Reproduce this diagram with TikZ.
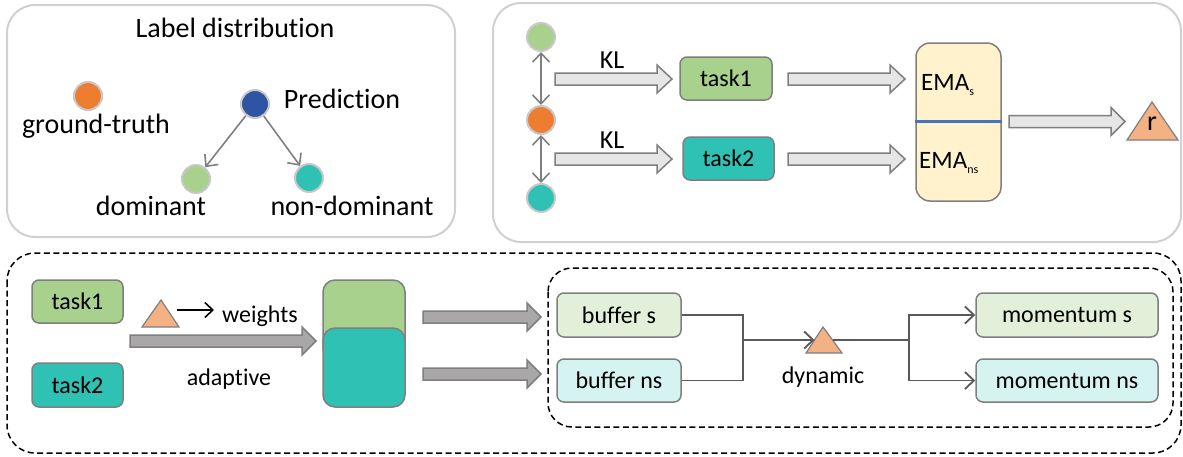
\documentclass[tikz,border=0pt]{standalone}
\usepackage{fontspec}
\setmainfont{Carlito}[Ligatures=NoCommon]
\usetikzlibrary{arrows.meta}
\definecolor{cGreen}{HTML}{A9D18E}
\definecolor{cTeal}{HTML}{2EC1B4}
\definecolor{cOrange}{HTML}{ED7D31}
\definecolor{cBlue}{HTML}{2F55A2}
\definecolor{cTri}{HTML}{F4B183}
\definecolor{cEMA}{HTML}{FFF2CC}
\definecolor{cLG}{HTML}{E2F0D9}
\definecolor{cLT}{HTML}{D5F3F0}
\definecolor{cFrame}{HTML}{D0D0D0}
\definecolor{cEdge}{HTML}{7F7F7F}
\definecolor{cLine}{HTML}{595959}
\definecolor{cArrL}{HTML}{E6E6E6}
\definecolor{cArrD}{HTML}{A9A7A7}
\definecolor{cSep}{HTML}{4472C4}
\definecolor{cCirc}{HTML}{C8C8C8}
\newcommand{\blkarrow}[5]{\draw[#1] (#2,{#5-6}) -- (#3,{#5-6}) -- (#3,{#5-14}) -- (#4,#5) -- (#3,{#5+14}) -- (#3,{#5+6}) -- (#2,{#5+6}) -- cycle;}
\tikzset{
  frame/.style={draw=cFrame, line width=2pt, rounded corners=28pt, fill=white},
  dframe/.style={draw=black, line width=1.5pt, dash pattern=on 6pt off 3.5pt, rounded corners=28pt},
  dot/.style={circle, minimum size=28pt, inner sep=0pt, draw=cCirc, line width=2pt},
  tbox/.style={draw=cEdge, line width=1.5pt, rounded corners=7pt, inner sep=0pt, font=\fontsize{24}{28}\selectfont},
  biglab/.style={font=\fontsize{28}{32}\selectfont, inner sep=0pt, anchor=base},
  smlab/.style={font=\fontsize{24}{28}\selectfont, inner sep=0pt, anchor=base},
  conn/.style={draw=cLine, line width=1.8pt, -{Straight Barb[length=9pt,width=17pt,line width=1.8pt]}},
  plain/.style={draw=cLine, line width=1.8pt},
  tarr/.style={draw=cEdge, line width=1.6pt, -{Straight Barb[length=9pt,width=17pt,line width=1.6pt]}},
  blkL/.style={draw=cEdge, fill=cArrL, line width=1.5pt},
  blkD/.style={draw=cEdge, fill=cArrD, line width=1.5pt},
  tri/.style={draw=cEdge, fill=cTri, line width=1.2pt}
}
\begin{document}
\begin{tikzpicture}[x=1pt,y=-1pt]
\useasboundingbox (0,0) rectangle (1183,456);
\fill[white] (0,0) rectangle (1183,456);
% ---------- top-left panel ----------
\draw[frame] (7,5) rectangle (455,237);
\node[biglab] (title) at (235,37) {Label distribution};
\node[dot, fill=cOrange] (gt) at (88,96) {};
\node[biglab] (gtlab) at (96,133) {ground-truth};
\node[dot, fill=cBlue] (pred) at (255,104) {};
\node[biglab] (predlab) at (342,108) {Prediction};
\node[dot, fill=cGreen] (dom) at (196,179) {};
\node[dot, fill=cTeal] (ndom) at (309,178) {};
\node[biglab] (domlab) at (151,215) {dominant};
\node[biglab] (ndomlab) at (352,215) {non-dominant};
\draw[tarr] (pred) -- (dom);
\draw[tarr] (pred) -- (ndom);
% ---------- top-right panel ----------
\draw[frame] (493,3) rectangle (1181,242);
\node[dot, fill=cGreen] (c1) at (541,37) {};
\node[dot, fill=cOrange] (c2) at (541,120) {};
\node[dot, fill=cTeal] (c3) at (541,198) {};
\draw[tarr, {Straight Barb[length=9pt,width=17pt,line width=1.6pt]}-{Straight Barb[length=9pt,width=17pt,line width=1.6pt]}] (c1) -- (c2);
\draw[tarr, {Straight Barb[length=9pt,width=17pt,line width=1.6pt]}-{Straight Barb[length=9pt,width=17pt,line width=1.6pt]}] (c2) -- (c3);
\blkarrow{blkL}{555}{657}{672}{79}
\blkarrow{blkL}{555}{657}{672}{159}
\node[smlab, font=\fontsize{26}{30}\selectfont] (kl1) at (612,68) {KL};
\node[smlab, font=\fontsize{26}{30}\selectfont] (kl2) at (612,148) {KL};
\node[tbox, fill=cGreen, minimum width=92pt, minimum height=43pt] (t1) at (726,78.5) {task1};
\node[tbox, fill=cTeal, minimum width=91pt, minimum height=43pt] (t2) at (728.5,158.5) {task2};
\blkarrow{blkL}{788}{890}{905}{79}
\blkarrow{blkL}{788}{890}{905}{159}
\node[tbox, fill=cEMA, rounded corners=14pt, minimum width=85pt, minimum height=158pt] (ema) at (958.5,122) {};
\draw[cSep, line width=3pt] (ema.west |- 0,121) -- (ema.east |- 0,121);
\node[inner sep=0pt, anchor=base west, font=\fontsize{25}{28}\selectfont] (emas) at (921,90) {EMA\raisebox{-5pt}{\fontsize{12}{13}\selectfont s}};
\node[inner sep=0pt, anchor=base west, font=\fontsize{25}{28}\selectfont] (emans) at (919,168) {EMA\raisebox{-5pt}{\fontsize{12}{13}\selectfont ns}};
\blkarrow{blkL}{1009}{1111}{1125}{121.5}
\draw[tri] (1152,102) -- (1178,140) -- (1127,140) -- cycle;
\node[inner sep=0pt, font=\fontsize{28}{30}\selectfont] (r) at (1152,124) {r};
% ---------- bottom panel ----------
\draw[dframe] (7,253) rectangle (1181,453);
\draw[dframe, rounded corners=24pt] (548,268) rectangle (1173,427);
\node[tbox, fill=cGreen, minimum width=91pt, minimum height=43pt] (bt1) at (77.5,301.5) {task1};
\node[tbox, fill=cTeal, minimum width=91pt, minimum height=44pt] (bt2) at (77.5,385) {task2};
\draw[tri] (161,300) -- (179,327) -- (142,327) -- cycle;
\coordinate (wtri) at (177,310);
\node[smlab, anchor=base west] (weights) at (222,322) {weights};
\draw[black, line width=1.6pt, -{Straight Barb[length=8pt,width=15pt,line width=1.6pt]}] (wtri) -- (214,310);
\blkarrow{blkD}{130}{302}{316}{341}
\node[smlab] (adaptive) at (229,385) {adaptive};
\node[tbox, fill=cGreen, rounded corners=12pt, minimum width=82pt, minimum height=80pt] (stA) at (364,320) {};
\node[tbox, fill=cTeal, rounded corners=12pt, minimum width=82pt, minimum height=79pt] (stB) at (364,367.5) {};
\blkarrow{blkD}{423}{527}{541}{317}
\blkarrow{blkD}{423}{527}{541}{374}
\node[tbox, fill=cLG, minimum width=124pt, minimum height=44pt] (bufs) at (619,315) {buffer s};
\node[tbox, fill=cLT, minimum width=124pt, minimum height=43pt] (bufns) at (619,380.5) {buffer ns};
\coordinate (jn1) at (743,340);
\draw[plain] (bufs.east) -| (jn1);
\draw[plain] (bufns.east) -| (jn1);
\draw[tri] (823,327) -- (842,353) -- (806,353) -- cycle;
\coordinate (dynL) at (814.5,340);
\coordinate (dynR) at (832.5,340);
\draw[conn] (jn1) -- (dynL);
\node[smlab] (dynamic) at (823,383) {dynamic};
\node[tbox, fill=cLG, minimum width=182pt, minimum height=44pt] (moms) at (1067,315) {momentum s};
\node[tbox, fill=cLT, minimum width=182pt, minimum height=43pt] (momns) at (1067,380.5) {momentum ns};
\coordinate (jn2) at (909,340);
\draw[plain] (dynR) -- (jn2);
\draw[conn] (jn2) |- (moms.west);
\draw[conn] (jn2) |- (momns.west);
\end{tikzpicture}
\end{document}
